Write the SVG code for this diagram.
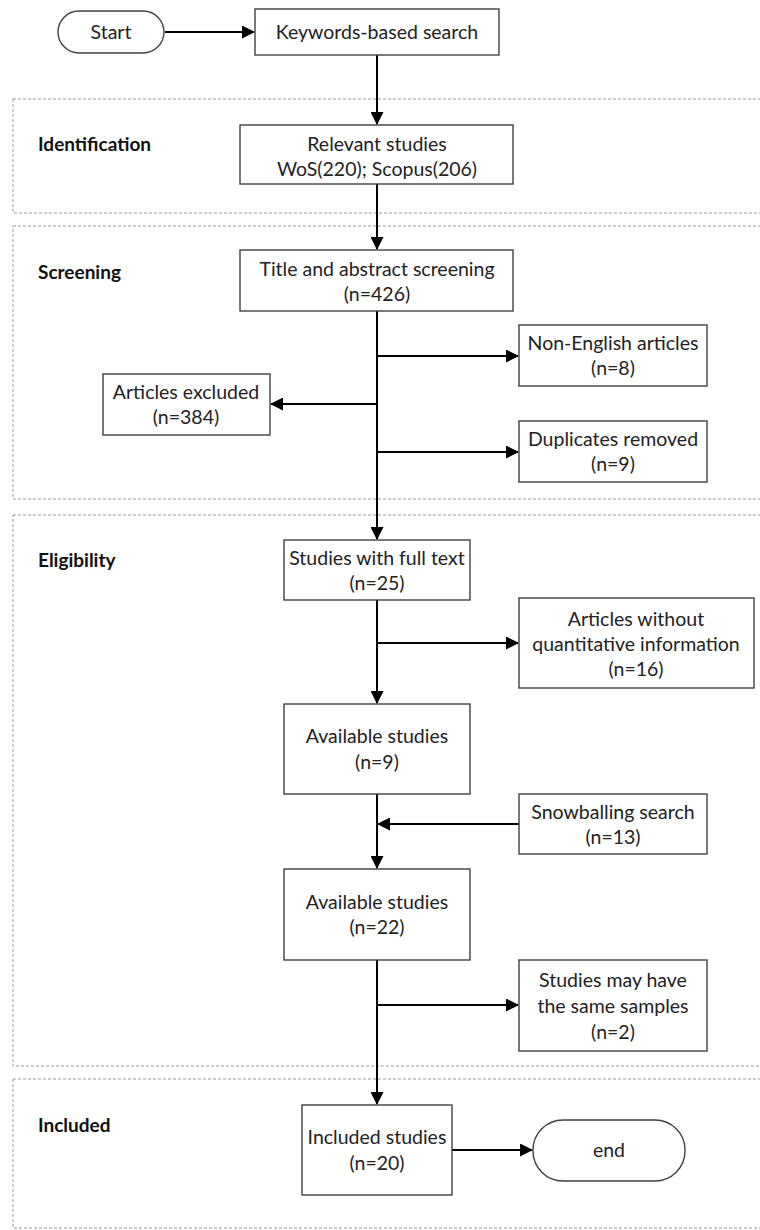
<svg xmlns="http://www.w3.org/2000/svg" width="760" height="1230" viewBox="0 0 760 1230">
<style>
.box{fill:#fff;stroke:#404040;stroke-width:1.4}
.stage{fill:none;stroke:#9a9a9a;stroke-width:1;stroke-dasharray:3,2}
.t{font-family:Lato,"Liberation Sans",sans-serif;font-size:19.5px;fill:#222;text-anchor:middle}
.lbl{font-family:Lato,"Liberation Sans",sans-serif;font-size:19px;font-weight:bold;fill:#111}
.c{fill:none;stroke:#000;stroke-width:2}
</style>
<defs>
<marker id="ah" markerUnits="userSpaceOnUse" markerWidth="13" markerHeight="13" refX="12" refY="6.5" orient="auto">
<path d="M0,0 L13,6.5 L0,13 Z" fill="#000"/>
</marker>
</defs>
<rect width="760" height="1230" fill="#fff"/>
<g id="stages">
<rect class="stage" x="13" y="99" width="760" height="114"/>
<rect class="stage" x="13" y="226" width="760" height="273"/>
<rect class="stage" x="13" y="515" width="760" height="551"/>
<rect class="stage" x="13" y="1079" width="760" height="149"/>
<text class="lbl" x="38" y="151">Identification</text>
<text class="lbl" x="38" y="279">Screening</text>
<text class="lbl" x="38" y="567">Eligibility</text>
<text class="lbl" x="38" y="1132">Included</text>
</g>
<g id="connectors">
<line class="c" x1="165" y1="32" x2="254" y2="32" marker-end="url(#ah)"/>
<line class="c" x1="377" y1="55" x2="377" y2="124" marker-end="url(#ah)"/>
<line class="c" x1="377" y1="184" x2="377" y2="249" marker-end="url(#ah)"/>
<line class="c" x1="377" y1="311" x2="377" y2="539" marker-end="url(#ah)"/>
<line class="c" x1="377" y1="356" x2="518" y2="356" marker-end="url(#ah)"/>
<line class="c" x1="377" y1="404" x2="271" y2="404" marker-end="url(#ah)"/>
<line class="c" x1="377" y1="452" x2="518" y2="452" marker-end="url(#ah)"/>
<line class="c" x1="377" y1="600" x2="377" y2="703" marker-end="url(#ah)"/>
<line class="c" x1="377" y1="643" x2="518" y2="643" marker-end="url(#ah)"/>
<line class="c" x1="377" y1="794" x2="377" y2="868" marker-end="url(#ah)"/>
<line class="c" x1="519" y1="824" x2="378" y2="824" marker-end="url(#ah)"/>
<line class="c" x1="377" y1="960" x2="377" y2="1104" marker-end="url(#ah)"/>
<line class="c" x1="377" y1="1005" x2="518" y2="1005" marker-end="url(#ah)"/>
<line class="c" x1="452" y1="1150" x2="532" y2="1150" marker-end="url(#ah)"/>
</g>
<g id="start">
<rect class="box" x="58" y="11" width="106" height="42" rx="21"/>
<text class="t" x="111" y="39">Start</text>
</g>
<g id="keywords">
<rect class="box" x="255" y="9" width="244" height="46"/>
<text class="t" x="377" y="39">Keywords-based search</text>
</g>
<g id="relevant">
<rect class="box" x="240" y="125" width="273" height="59"/>
<text class="t" x="377" y="151">Relevant studies</text>
<text class="t" x="377" y="176">WoS(220); Scopus(206)</text>
</g>
<g id="title-screening">
<rect class="box" x="240" y="250" width="273" height="61"/>
<text class="t" x="377" y="276">Title and abstract screening</text>
<text class="t" x="377" y="301">(n=426)</text>
</g>
<g id="non-english">
<rect class="box" x="519" y="325" width="188" height="61"/>
<text class="t" x="613" y="350">Non-English articles</text>
<text class="t" x="613" y="375">(n=8)</text>
</g>
<g id="articles-excluded">
<rect class="box" x="103" y="374" width="167" height="61"/>
<text class="t" x="186" y="399">Articles excluded</text>
<text class="t" x="186" y="424">(n=384)</text>
</g>
<g id="duplicates">
<rect class="box" x="519" y="421" width="188" height="61"/>
<text class="t" x="613" y="446">Duplicates removed</text>
<text class="t" x="613" y="471">(n=9)</text>
</g>
<g id="full-text">
<rect class="box" x="284" y="540" width="186" height="60"/>
<text class="t" x="377" y="565">Studies with full text</text>
<text class="t" x="377" y="590">(n=25)</text>
</g>
<g id="without-quant">
<rect class="box" x="519" y="598" width="235" height="90"/>
<text class="t" x="636" y="626">Articles without</text>
<text class="t" x="636" y="651">quantitative information</text>
<text class="t" x="636" y="676">(n=16)</text>
</g>
<g id="available-9">
<rect class="box" x="284" y="704" width="186" height="90"/>
<text class="t" x="377" y="743">Available studies</text>
<text class="t" x="377" y="769">(n=9)</text>
</g>
<g id="snowballing">
<rect class="box" x="519" y="794" width="188" height="60"/>
<text class="t" x="613" y="819">Snowballing search</text>
<text class="t" x="613" y="844">(n=13)</text>
</g>
<g id="available-22">
<rect class="box" x="284" y="869" width="186" height="91"/>
<text class="t" x="377" y="909">Available studies</text>
<text class="t" x="377" y="934">(n=22)</text>
</g>
<g id="same-samples">
<rect class="box" x="519" y="960" width="188" height="91"/>
<text class="t" x="613" y="987">Studies may have</text>
<text class="t" x="613" y="1013">the same samples</text>
<text class="t" x="613" y="1039">(n=2)</text>
</g>
<g id="included">
<rect class="box" x="302" y="1105" width="150" height="90"/>
<text class="t" x="377" y="1144">Included studies</text>
<text class="t" x="377" y="1170">(n=20)</text>
</g>
<g id="end">
<rect class="box" x="533" y="1120" width="152" height="61" rx="30"/>
<text class="t" x="609" y="1157">end</text>
</g>
</svg>
